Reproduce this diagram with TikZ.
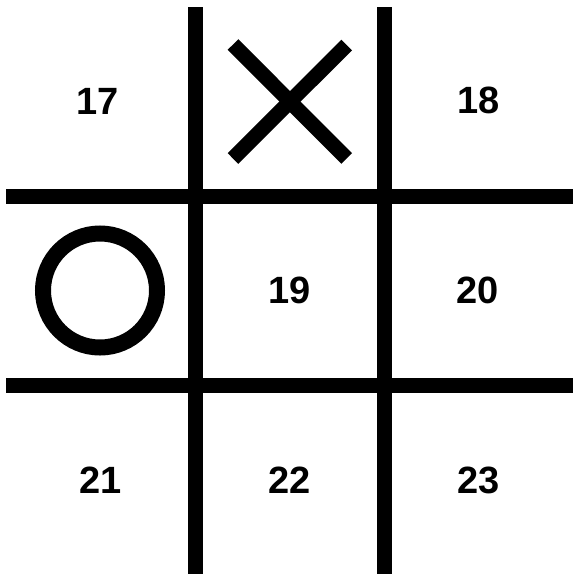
\documentclass[tikz,border=0pt]{standalone}
\usepackage{fontspec}
\setmainfont{Liberation Sans}
\usepackage{tikz}
\usetikzlibrary{positioning}
\tikzset{bar/.style={draw=black,line width=15pt,line cap=butt},
 symb/.style={draw=black,line width=15pt,line cap=butt},
 num/.style={font=\fontsize{38}{45}\selectfont\bfseries,inner sep=0pt,anchor=center}}

\begin{document}
\begin{tikzpicture}[x=1pt,y=-1pt]
\useasboundingbox[fill=white] (0,0) rectangle (573,574);
\draw[bar] (195.5,7)--(195.5,574);
\draw[bar] (384.5,7)--(384.5,574);
\draw[bar] (6,196)--(573,196);
\draw[bar] (6,385.5)--(573,385.5);
\draw[symb] (233,44.5)--(346.7,158.5);
\draw[symb] (346.7,45)--(233,158.5);
\draw[symb,line width=16pt] (100,290.5) circle[radius=57];
\foreach \n/\x/\y in {17/97.5/101.5,18/479/100.5,19/290/290.5,20/478/290.5,21/101/480.5,22/290/480.5,23/478.5/480.5}{\node[num] (c\n) at (\x,\y) {\n};}
\end{tikzpicture}
\end{document}
